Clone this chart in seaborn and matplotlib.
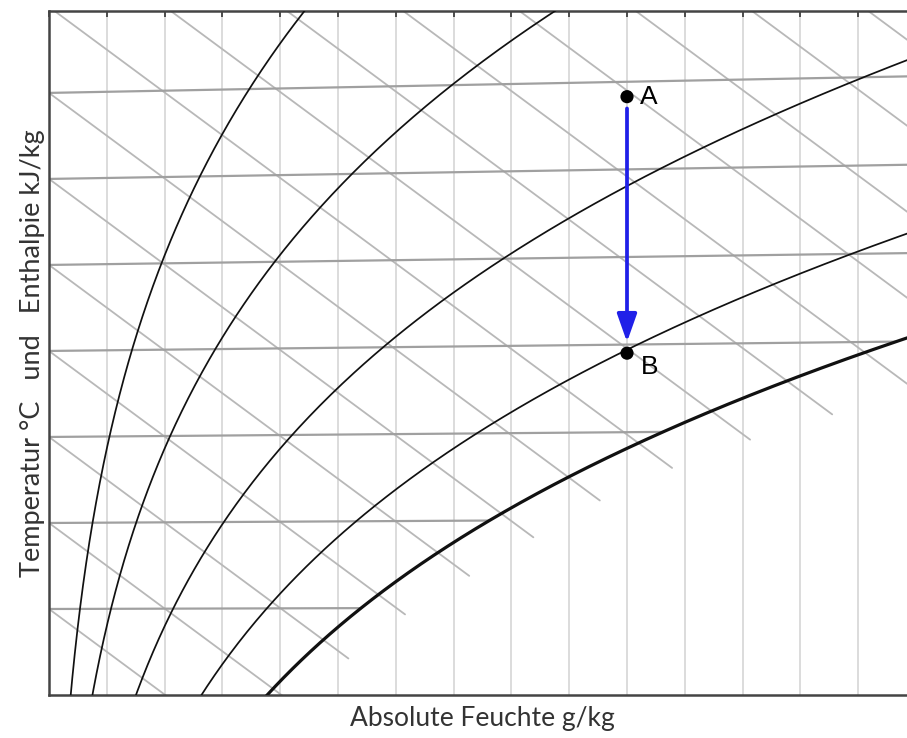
import numpy as np
import pandas as pd
import matplotlib
matplotlib.use("Agg")
import matplotlib.pyplot as plt
import seaborn as sns

# ---------------- data (h-x / Mollier diagram) ----------------
P_ATM = 101325.0                                   # Pa
rel_humidity = [0.1, 0.2, 0.4, 0.7, 1.0]           # relative humidity curves
isotherm_temps = [5, 10, 15, 20, 25, 30, 35]       # °C
enthalpy_temps = [5, 10, 15, 20, 25, 30, 35, 40, 45, 50, 55, 60, 65, 70, 75]  # h = cp*t at x=0
enthalpy_end_x = [2.1, 4.1, 5.18, 6.16, 7.27, 8.38, 9.53, 10.78, 12.13, 13.55,
                  15.5, 15.5, 15.5, 15.5, 15.5]      # g/kg where each h-line stops
x_grid = list(range(1, 15))                         # g/kg
point_labels = ["A", "B"]
point_x = [10.0, 10.0]                              # g/kg
point_h = [60.0, 45.0]                              # kJ/kg

X_MAX, Y_MAX = 15.0, 40.0
CP_A, CP_V, R0 = 1.006, 1.86, 2501.0


def p_sat(t):
    return 611.2 * np.exp(17.62 * t / (243.12 + t))


def x_of(t, phi):
    ps = phi * p_sat(t)
    return 622.0 * ps / (P_ATM - ps)


def y_of(t, x):
    # skewed ordinate: h - r0*x  (kJ/kg)
    return CP_A * t + CP_V * t * x / 1000.0


# ---------------- figure ----------------
sns.set_style("white")
plt.rcParams["font.family"] = ["Lato", "DejaVu Sans"]

fig = plt.figure(figsize=(9.07, 7.38), dpi=100)
ax = fig.add_axes([49 / 907, 43 / 738, (916 - 49) / 907, (695 - 11) / 738])

# vertical grid lines
for gx in x_grid:
    ax.axvline(gx, color="#d6d6d6", lw=1.2, zorder=0)

# enthalpy lines
rows = []
for t, xe in zip(enthalpy_temps, enthalpy_end_x):
    h = CP_A * t
    xs = max(0.0, (h - Y_MAX) / (R0 / 1000.0))
    for xv in (xs, xe):
        rows.append({"id": t, "x": xv, "Y": h - R0 / 1000.0 * xv})
df_h = pd.DataFrame(rows)
sns.lineplot(data=df_h, x="x", y="Y", units="id", estimator=None, sort=False,
             color="#b8b8b8", lw=1.3, ax=ax, zorder=1)

# isotherms (end at saturation)
rows = []
for t in isotherm_temps:
    xe = min(x_of(t, 1.0), X_MAX + 0.5)
    for xv in (0.0, xe):
        rows.append({"id": t, "x": xv, "Y": y_of(t, xv)})
df_t = pd.DataFrame(rows)
sns.lineplot(data=df_t, x="x", y="Y", units="id", estimator=None, sort=False,
             color="#a0a0a0", lw=1.6, ax=ax, zorder=2)

# relative humidity curves
tt = np.linspace(-2, 48, 400)
for phi in rel_humidity:
    xx = x_of(tt, phi)
    df_c = pd.DataFrame({"x": xx, "Y": y_of(tt, xx)})
    sns.lineplot(data=df_c, x="x", y="Y", estimator=None, sort=False,
                 color="#111111", lw=2.3 if phi >= 1.0 else 1.25, ax=ax, zorder=3)

# process A -> B
pY = [h - R0 / 1000.0 * x for h, x in zip(point_h, point_x)]
ax.annotate("", xy=(point_x[1], pY[1]), xytext=(point_x[0], pY[0]),
            arrowprops=dict(arrowstyle="-|>,head_length=1.7,head_width=0.6",
                            color="#2020e8", lw=2.7, shrinkA=8.5, shrinkB=8),
            zorder=4)
sns.scatterplot(x=point_x, y=pY, color="black", s=90, edgecolor="none", ax=ax, zorder=5)
offs = [(9, 0), (10, -10)]
for lab, xv, yv, off in zip(point_labels, point_x, pY, offs):
    ax.annotate(lab, (xv, yv), xytext=off, textcoords="offset points",
                ha="left", va="center", fontsize=19, family=["Liberation Sans", "DejaVu Sans"],
                color="black", zorder=6)

ax.set_xlim(0, X_MAX)
ax.set_ylim(0, Y_MAX)
ax.set_xticks(range(0, 16))
ax.set_yticks([CP_A * t for t in isotherm_temps])
ax.tick_params(axis="both", direction="in", length=4, width=1.2, color="#333333",
               top=True, right=True, labelbottom=False, labelleft=False)
for s in ax.spines.values():
    s.set_color("#444444")
    s.set_linewidth(1.8)

ax.set_xlabel("Absolute Feuchte g/kg", fontsize=19, color="#333333", labelpad=8)
ax.set_ylabel("Temperatur °C   und   Enthalpie kJ/kg", fontsize=19.5, color="#333333", labelpad=3)

fig.savefig("out.png", dpi=100)
